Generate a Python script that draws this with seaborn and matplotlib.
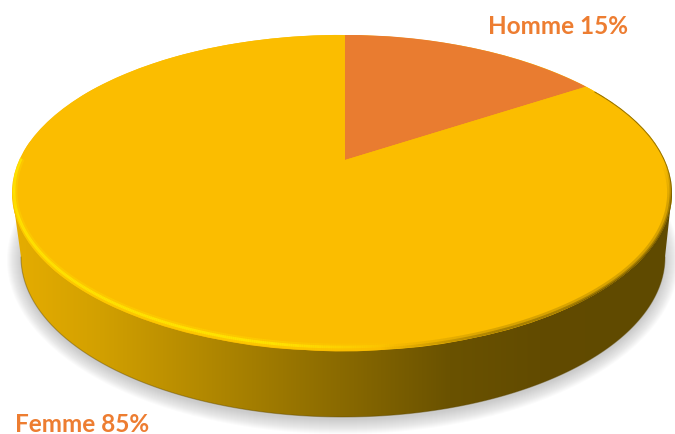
import numpy as np
import matplotlib
matplotlib.use('Agg')
import matplotlib.pyplot as plt
import matplotlib.transforms as mtransforms
from matplotlib.collections import LineCollection
from matplotlib.patches import Ellipse, Polygon
import seaborn as sns

categories = ['Homme', 'Femme']
values = [15, 85]
slice_colors = ['#E97C30', '#FBBD00']
label_color = '#ED7D31'

# top face and bottom rim of the disc, in pixels of the picture
FACE = (342, 194, 330, 158)
BASE = (343, 258, 322, 160)
APEX = (345, 161)


def rim(ell, t):
    cx, cy, a, b = ell
    return cx + a * np.cos(t), cy - b * np.sin(t)


class PieWarp(mtransforms.Transform):
    """Puts the unit circle of ax.pie on the tilted top face."""
    input_dims = 2
    output_dims = 2

    def transform_non_affine(self, xy):
        xy = np.asarray(xy, dtype=float)
        r = np.hypot(xy[:, 0], xy[:, 1])
        th = np.arctan2(xy[:, 1], xy[:, 0])
        t = th + 0.125 * np.sin(2 * th) - 0.009
        x, y = rim(FACE, t)
        return np.column_stack([APEX[0] + r * (x - APEX[0]), APEX[1] + r * (y - APEX[1])])


def band(ax, ell, t, rgb, alpha, lw, clip=None):
    x, y = rim(ell, t)
    pts = np.column_stack([x, y])
    segs = np.stack([pts[:-1], pts[1:]], axis=1)
    colors = np.zeros((len(segs), 4))
    colors[:, :3] = matplotlib.colors.to_rgb(rgb)
    colors[:, 3] = alpha[:-1]
    lc = LineCollection(segs, colors=colors, linewidths=lw, capstyle='butt', zorder=5)
    ax.add_collection(lc)
    if clip is not None:
        lc.set_clip_path(clip)


sns.set_theme(style='white')
plt.rcParams['font.family'] = ['Lato', 'DejaVu Sans']
palette = sns.color_palette(slice_colors)

fig = plt.figure(figsize=(6.75, 4.35), dpi=100)
ax = fig.add_axes([0, 0, 1, 1])

# soft shadow under the disc
for grow in np.arange(0, 15, 1.0):
    ax.add_patch(Ellipse((BASE[0], BASE[1] + 3), 2 * (BASE[2] + grow), 2 * (BASE[3] + grow),
                         fc='#8a8a8a', ec='none', alpha=0.03, zorder=1))

# side wall
t_low = np.linspace(np.pi, 2 * np.pi, 300)
bx, by = rim(BASE, t_low)
hull = np.column_stack([np.r_[FACE[0] - FACE[2], bx, FACE[0] + FACE[2]],
                        np.r_[FACE[1], by, FACE[1]]])
wall = Polygon(hull, closed=True, fc='none', ec='none', zorder=2)
ax.add_patch(wall)
stops_x = [12, 100, 225, 340, 450, 540, 675]
stops_c = np.array([matplotlib.colors.to_rgb(c) for c in
                    ['#E6AD00', '#D2A000', '#AC8400', '#8A6A00', '#6A5200', '#624B00', '#5F4A00']])
xs = np.arange(0, 676)
grad = np.stack([np.interp(xs, stops_x, stops_c[:, i]) for i in range(3)], axis=-1)[None, :, :]
im = ax.imshow(grad, extent=(0, 675, 435, 0), aspect='auto', zorder=2)
im.set_clip_path(wall)
ax.plot(bx, by, color='#5a4500', alpha=0.4, lw=0.8, zorder=2.5)

# top face
face = Ellipse(FACE[:2], 2 * FACE[2], 2 * FACE[3], fc=palette[1], ec='none', zorder=3)
ax.add_patch(face)

# the slices
wedges, _ = ax.pie(values, colors=palette, startangle=90, counterclock=False, radius=1,
                   wedgeprops={'linewidth': 0})
warp = PieWarp() + ax.transData
for w in wedges:
    w.set_transform(warp)
    w.set_zorder(4)
    w.set_clip_path(face)

# bevel of the front rim: bright on the left, dark on the right
t_rim = np.linspace(np.radians(168), np.radians(400), 600)
rx, ry = rim(FACE, t_rim)
bright = np.clip((400 - rx) / 130, 0, 1)
inner = (FACE[0], FACE[1] - 2, FACE[2] - 2, FACE[3] - 2)
band(ax, inner, t_rim, '#FFD400', bright * 0.5, 5, clip=face)
band(ax, inner, t_rim, '#FFE600', bright * 0.9, 2, clip=face)
fade_up = np.clip((ry - 165) / 40, 0, 1)
dark = np.clip((rx - 380) / 120, 0, 1) * fade_up
band(ax, FACE, t_rim, '#5F4A00', dark * 0.22, 7, clip=face)
band(ax, FACE, t_rim, '#5F4A00', dark * 0.40, 3.5, clip=face)
thin = np.clip((rx - 560) / 30, 0, 1)
band(ax, FACE, t_rim, '#5F4A00', thin * 0.7, 1.4, clip=face)

ax.set_aspect('auto')
ax.set_xlim(0, 675)
ax.set_ylim(435, 0)
ax.axis('off')

ax.text(628, 27, f'{categories[0]} {values[0]}%', color=label_color, fontsize=17.5,
        fontweight='bold', ha='right', va='center', zorder=6)
ax.text(15, 425, f'{categories[1]} {values[1]}%', color=label_color, fontsize=17.5,
        fontweight='bold', ha='left', va='center', zorder=6)

fig.savefig('out.png', dpi=100)
